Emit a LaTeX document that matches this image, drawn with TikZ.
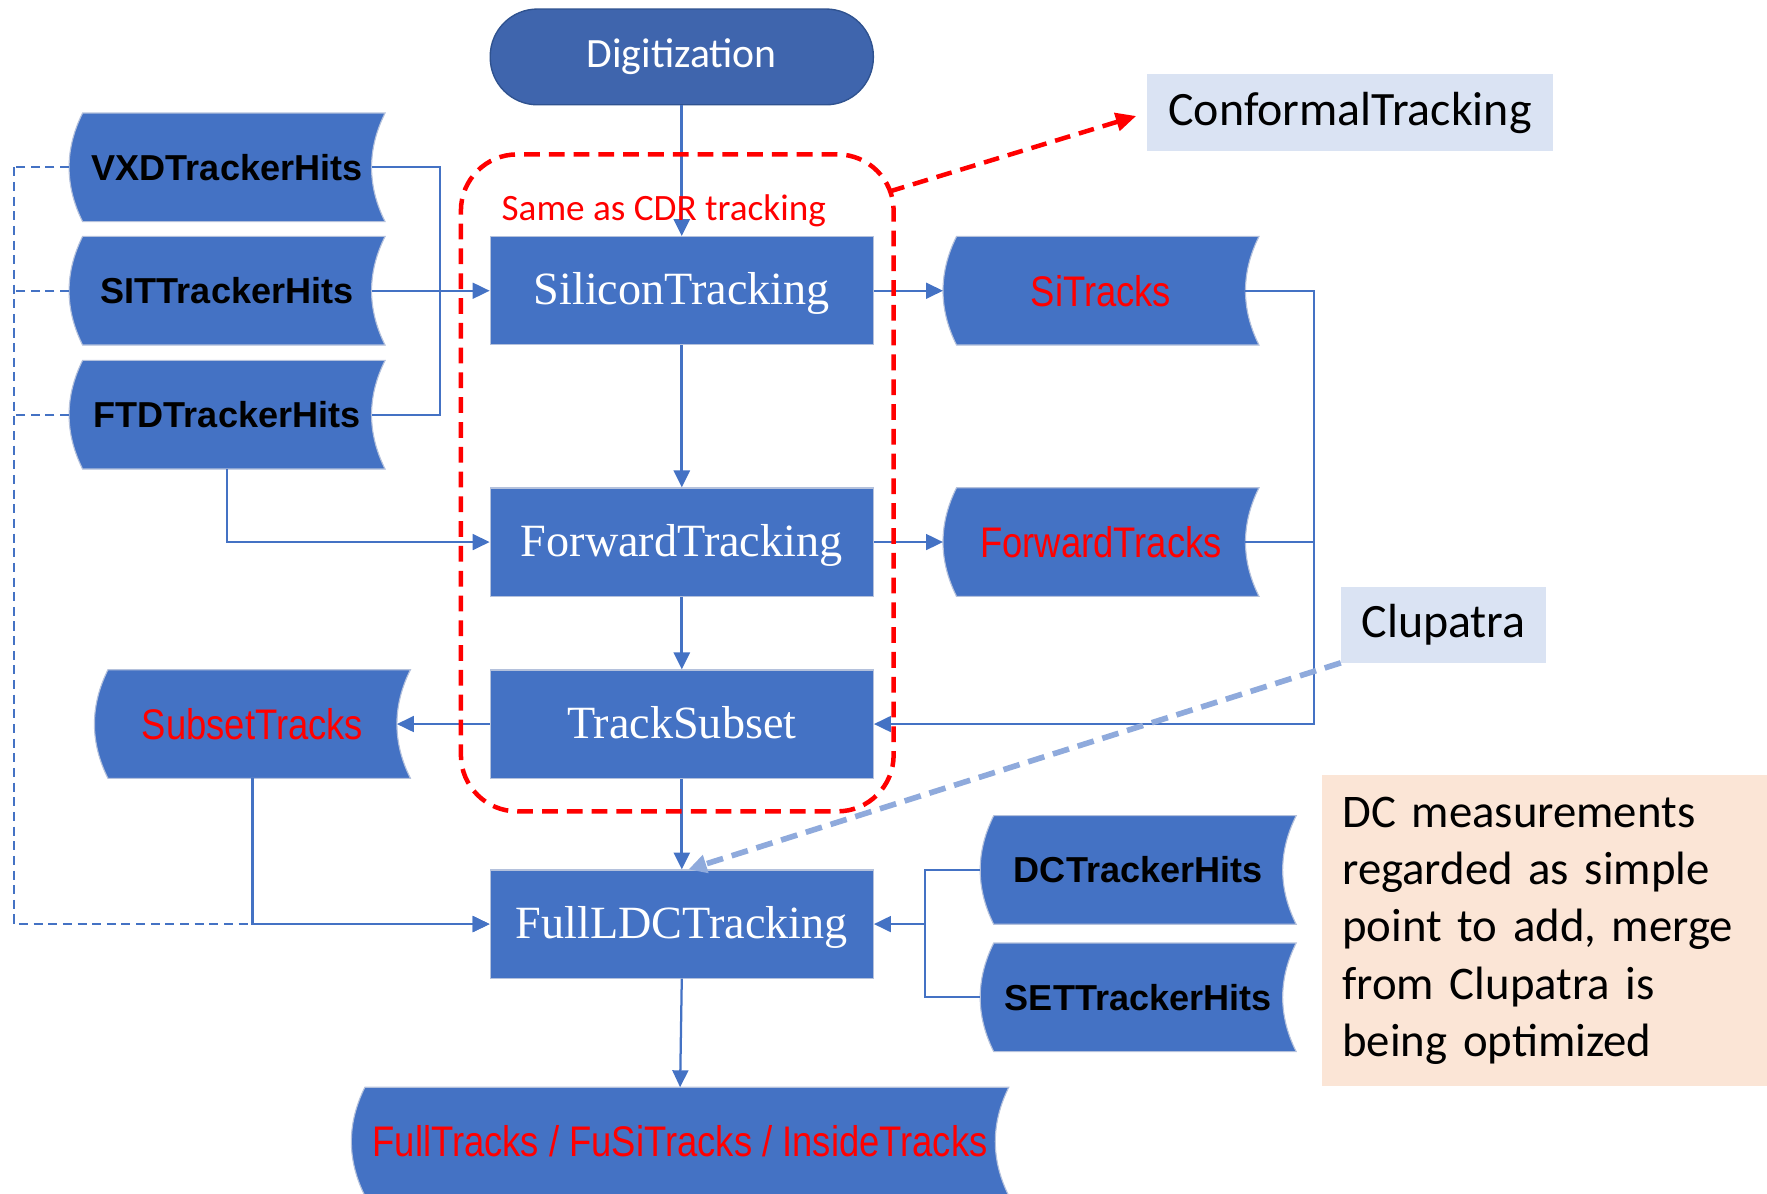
\documentclass[tikz,border=0pt]{standalone}
\usepackage{fontspec}
\usepackage{graphicx}
\setmainfont{Liberation Serif}
\newfontfamily\carl{Carlito}
\newfontfamily\lsans{Liberation Sans}
\usetikzlibrary{arrows.meta,calc}
\pgfdeclarelayer{bg}
\pgfsetlayers{bg,main}
\definecolor{boxblue}{HTML}{4472C4}
\definecolor{digblue}{HTML}{3F65AD}
\definecolor{digedge}{HTML}{2F528F}
\definecolor{boxedge}{HTML}{B4C1DC}
\definecolor{lightbox}{HTML}{DAE3F3}
\definecolor{peach}{HTML}{FBE5D6}
\definecolor{clupc}{HTML}{8FAADC}
\tikzset{
  procbox/.style={rectangle, fill=boxblue, draw=boxedge, line width=1pt,
    minimum width=340pt, minimum height=96pt, inner sep=0pt, text=white,
    text height=28pt, text depth=3pt,
    font=\fontsize{41}{41}\selectfont},
  datanode/.style={rectangle, inner sep=0pt, minimum width=280pt, minimum height=96pt},
  hitstxt/.style={font=\lsans\bfseries\fontsize{32}{32}\selectfont, text=black},
  tracktxt/.style={font=\lsans\fontsize{38}{38}\selectfont, text=red},
  notebox/.style={rectangle, fill=lightbox, inner sep=0pt, text=black,
    font=\carl\fontsize{42.5}{42.5}\selectfont},
  conn/.style={draw=boxblue, line width=2pt},
  mainconn/.style={draw=boxblue, line width=2.8pt},
  tip/.style={-{Triangle[length=15pt,width=14pt]}},
  dconn/.style={draw=boxblue, line width=1.8pt, dash pattern=on 8pt off 5pt},
  reddash/.style={draw=red, line width=4pt, dash pattern=on 14pt off 8pt},
  clupline/.style={draw=clupc, line width=5pt, dash pattern=on 15pt off 8pt},
}
\newcommand{\dshape}[1]{%
  \path[fill=boxblue, draw=boxedge, line width=1pt]
  let \p1=(#1.north west), \p2=(#1.south east), \n1={(\y1-\y2)/3} in
  (\x1+12pt,\y1) -- (\x2,\y1) .. controls (\x2-16pt,\y1-\n1) and (\x2-16pt,\y2+\n1) .. (\x2,\y2)
  -- (\x1+12pt,\y2) .. controls (\x1-4pt,\y2+\n1) and (\x1-4pt,\y1-\n1) .. (\x1+12pt,\y1) -- cycle;}
\newcommand{\rt}[1]{\scalebox{0.85}[1]{#1}}
\begin{document}
\begin{tikzpicture}[x=1pt,y=-1pt]
\useasboundingbox (0,0) rectangle (1568,1059);

% process nodes
\node (dig) [rectangle, rounded corners=42pt, fill=digblue, draw=digedge, line width=1.2pt,
  minimum width=340pt, minimum height=85pt, inner sep=0pt, text=white,
  font=\carl\fontsize{37}{37}\selectfont] at (605,50.5) {Digitization};
\node (sil)  [procbox] at (605,258)   {SiliconTracking};
\node (fwd)  [procbox] at (605,481)   {ForwardTracking};
\node (ts)   [procbox] at (605,642.5) {TrackSubset};
\node (full) [procbox] at (605,820)   {FullLDCTracking};

% data nodes
\node (vxd)  [datanode, hitstxt] at (201.5,148.5) {VXDTrackerHits};
\node (sit)  [datanode, hitstxt] at (201.5,258)   {SITTrackerHits};
\node (ftd)  [datanode, hitstxt] at (201.5,368)   {FTDTrackerHits};
\node (sitr) [datanode, tracktxt] at (977,258)    {\rt{SiTracks}};
\node (fwtr) [datanode, tracktxt] at (977,481)    {\rt{ForwardTracks}};
\node (sub)  [datanode, tracktxt] at (224,642.5)  {\rt{SubsetTracks}};
\node (dc)   [datanode, hitstxt] at (1010,772)    {DCTrackerHits};
\node (set)  [datanode, hitstxt] at (1010,885)    {SETTrackerHits};
\node (ftr)  [datanode, tracktxt, minimum width=583pt] at (603.5,1013) {\rt{FullTracks / FuSiTracks / InsideTracks}};

\begin{pgfonlayer}{bg}
  \dshape{vxd}\dshape{sit}\dshape{ftd}\dshape{sitr}\dshape{fwtr}
  \dshape{sub}\dshape{dc}\dshape{set}\dshape{ftr}
\end{pgfonlayer}

% side boxes
\node (conf) [notebox, minimum width=360pt, minimum height=68pt] at (1198,100) {ConformalTracking};
\node (clu)  [notebox, minimum width=182pt, minimum height=67pt] at (1281,554.5) {Clupatra};
\node (note) [rectangle, fill=peach, anchor=west, minimum width=410pt, minimum height=276pt,
  inner xsep=18pt, inner ysep=0pt, text width=374pt, align=left,
  font=\carl\fontsize{41.5}{51}\selectfont] at (1173,826)
  {DC measurements\\regarded as simple\\point to add, merge\\from Clupatra is\\being optimized};

% main chain
\draw[mainconn, tip] (dig.south) -- (sil.north);
\draw[mainconn, tip] (sil.south) -- (fwd.north);
\draw[mainconn, tip] (fwd.south) -- (ts.north);
\draw[mainconn, tip] (ts.south) -- (full.north);
\draw[conn, tip] (full.south) -- (ftr.north);

% outputs
\draw[conn, tip] (sil.east) -- (sitr.west);
\draw[conn, tip] (fwd.east) -- (fwtr.west);
\draw[conn, tip] ($(sitr.east)+(-12,0)$) -- ++(61,0) |- (ts.east);
\draw[conn] ($(fwtr.east)+(-12,0)$) -- ++(61,0);
\draw[conn, tip] (ts.west) -- ($(sub.east)+(-12,0)$);
\draw[conn, tip] (sub.south) |- (full.west);

% hits inputs
\draw[conn] ($(vxd.east)+(-12,0)$) -- ++(61,0) |- ($(ftd.east)+(-12,0)$);
\draw[conn, tip] ($(sit.east)+(-12,0)$) -- (sil.west);
\draw[conn, tip] (ftd.south) |- (fwd.west);
\draw[dconn] (vxd.west) -- ++(-49,0) coordinate (lbus);
\draw[dconn] (sit.west) -- (sit.west -| lbus);
\draw[dconn] (ftd.west) -- (ftd.west -| lbus);
\draw[dconn, tip] (lbus) |- (full.west);

\draw[conn] (dc.west) -- ++(-49,0) coordinate (rbus) |- (set.west);
\draw[conn, tip] (rbus |- full.east) -- (full.east);

% CDR group
\node (cdr) [reddash, rectangle, rounded corners=50pt, minimum width=384pt,
  minimum height=583pt, inner sep=0pt] at (601,428.5) {};
\node (cdrlab) [text=red, font=\carl\fontsize{33}{33}\selectfont] at (589,187) {Same as CDR tracking};
\draw[reddash, -{Triangle[length=18pt,width=16pt]}, shorten >=10pt]
  ($(cdr.north east)+(-6,35)$) -- (conf.west);

% Clupatra link
\draw[clupline, -{Triangle[length=16pt,width=16pt]}] (clu.south west) -- ($(full.north)+(6,0)$);
\end{tikzpicture}
\end{document}
